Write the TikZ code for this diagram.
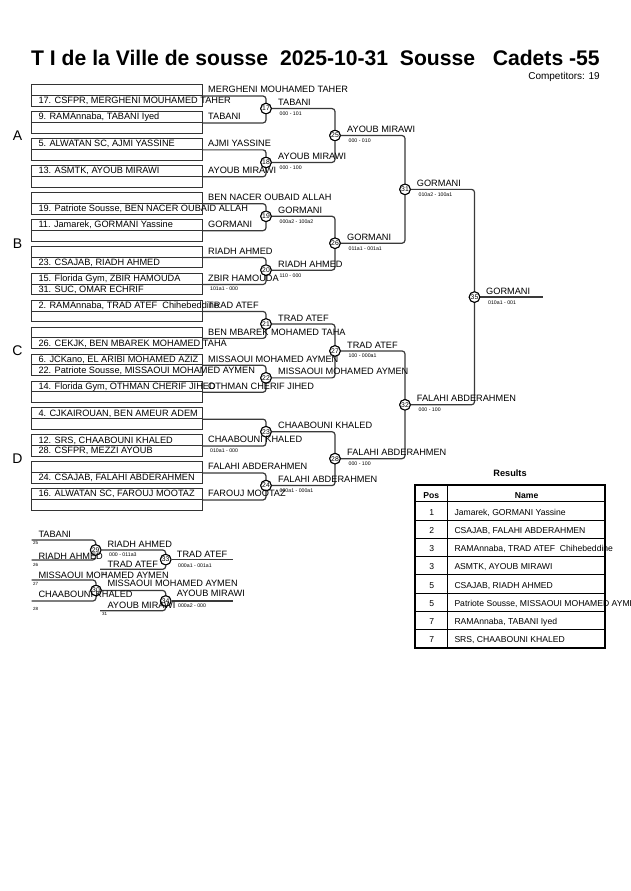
\documentclass[tikz,border=0pt]{standalone}
\usepackage{fontspec}
\setmainfont{Liberation Sans}
\definecolor{connc}{HTML}{3A3A3A}
\definecolor{boxc}{HTML}{333333}
\newcommand\mypair[4]{%
  \node[bx] (b#1u) at (31,#2) {};
  \node[bx] (b#1l) at (31,#2+10.8) {};
  \node[nm] (t#1u) at (38.3,#2+8.7) {#3};
  \node[nm] (t#1l) at (38.3,#2+19.5) {#4};
}
\begin{document}
\begin{tikzpicture}[x=1pt,y=-1pt,
  nm/.style={font=\fontsize{9.2}{10}\selectfont, inner sep=0, anchor=base west},
  sc/.style={font=\fontsize{5.2}{6}\selectfont, inner sep=0, anchor=base west},
  tn/.style={font=\fontsize{4.5}{5}\selectfont, inner sep=0, anchor=base west},
  bx/.style={draw=boxc, line width=0.9pt, minimum width=171pt, minimum height=10.8pt, inner sep=0, anchor=north west},
  mc/.style={circle, draw=black, line width=1pt, fill=white, minimum size=10.6pt, inner sep=0, font=\fontsize{6.8}{7}\selectfont},
  conn/.style={draw=connc, line width=1.2pt, rounded corners=3pt},
  sect/.style={font=\fontsize{14}{16}\selectfont, inner sep=0},
]
\useasboundingbox (0,0) rectangle (630,891);
\fill[white] (0,0) rectangle (630,891);

% title
\node[font=\bfseries\fontsize{21.15}{24}\selectfont, anchor=base west, inner sep=0] (title) at (31,66) {T I de la Ville de sousse\ \ 2025-10-31\ \ Sousse\ \ \ Cadets -55};
\node[font=\fontsize{10}{12}\selectfont, anchor=base east, inner sep=0] (comp) at (600,79.5) {Competitors: 19};

% entry boxes
\mypair{0}{84.30}{}{17. CSFPR, MERGHENI MOUHAMED TAHER}
\mypair{1}{111.23}{9. RAMAnnaba, TABANI Iyed}{}
\mypair{2}{138.16}{5. ALWATAN SC, AJMI YASSINE}{}
\mypair{3}{165.09}{13. ASMTK, AYOUB MIRAWI}{}
\mypair{4}{192.02}{}{19. Patriote Sousse, BEN NACER OUBAID ALLAH}
\mypair{5}{218.95}{11. Jamarek, GORMANI Yassine}{}
\mypair{6}{245.88}{}{23. CSAJAB, RIADH AHMED}
\mypair{7}{272.81}{15. Florida Gym, ZBIR HAMOUDA}{31. SUC, OMAR ECHRIF}
\mypair{8}{299.74}{2. RAMAnnaba, TRAD ATEF\ \ Chihebeddine}{}
\mypair{9}{326.67}{}{26. CEKJK, BEN MBAREK MOHAMED TAHA}
\mypair{10}{353.60}{6. JCKano, EL ARIBI MOHAMED AZIZ}{22. Patriote Sousse, MISSAOUI MOHAMED AYMEN}
\mypair{11}{380.53}{14. Florida Gym, OTHMAN CHERIF JIHED}{}
\mypair{12}{407.46}{4. CJKAIROUAN, BEN AMEUR ADEM}{}
\mypair{13}{434.39}{12. SRS, CHAABOUNI KHALED}{28. CSFPR, MEZZI AYOUB}
\mypair{14}{461.32}{}{24. CSAJAB, FALAHI ABDERAHMEN}
\mypair{15}{488.25}{16. ALWATAN SC, FAROUJ MOOTAZ}{}

% section letters
\node[sect] (sA) at (17.5,135.5) {A};
\node[sect] (sB) at (17.5,243.2) {B};
\node[sect] (sC) at (17.5,350.9) {C};
\node[sect] (sD) at (17.5,458.7) {D};

% match circles
\node[mc] (m17) at (266,108.57) {17};
\node[mc] (m18) at (266,162.43) {18};
\node[mc] (m19) at (266,216.29) {19};
\node[mc] (m20) at (266,270.15) {20};
\node[mc] (m21) at (266,324.01) {21};
\node[mc] (m22) at (266,377.87) {22};
\node[mc] (m23) at (266,431.73) {23};
\node[mc] (m24) at (266,485.59) {24};
\node[mc] (m25) at (335,135.50) {25};
\node[mc] (m26) at (335,243.22) {26};
\node[mc] (m27) at (335,350.94) {27};
\node[mc] (m28) at (335,458.66) {28};
\node[mc] (m31) at (405,189.36) {31};
\node[mc] (m32) at (405,404.80) {32};
\node[mc] (m35) at (474.5,297.08) {35};
\coordinate (fin) at (542.5,297.08);

% connectors round 1
\foreach \a/\m in {0/17,1/17,2/18,3/18,4/19,5/19,6/20,7/20,8/21,9/21,10/22,11/22,12/23,13/23,14/24,15/24}
  \draw[conn] (b\a u.south east) -| (m\m);
\foreach \a/\m in {17/25,18/25,19/26,20/26,21/27,22/27,23/28,24/28,25/31,26/31,27/32,28/32,31/35,32/35}
  \draw[conn] (m\a.east) -| (m\m);
\draw[conn] (m35.east) -- (fin);
\foreach \m in {17,...,28,31,32,35} \node[mc] at (m\m) {\m};

% round 1 labels
\node[nm] (l0) at (208,92.8) {MERGHENI MOUHAMED TAHER};
\node[nm] (l1) at (208,119.7) {TABANI};
\node[nm] (l2) at (208,146.7) {AJMI YASSINE};
\node[nm] (l3) at (208,173.6) {AYOUB MIRAWI};
\node[nm] (l4) at (208,200.5) {BEN NACER OUBAID ALLAH};
\node[nm] (l5) at (208,227.5) {GORMANI};
\node[nm] (l6) at (208,254.4) {RIADH AHMED};
\node[nm] (l7) at (208,281.3) {ZBIR HAMOUDA};
\node[nm] (l8) at (208,308.2) {TRAD ATEF};
\node[nm] (l9) at (208,335.2) {BEN MBAREK MOHAMED TAHA};
\node[nm] (l10) at (208,362.1) {MISSAOUI MOHAMED AYMEN};
\node[nm] (l11) at (208,389.0) {OTHMAN CHERIF JIHED};
\node[nm] (l13) at (208,442.9) {CHAABOUNI KHALED};
\node[nm] (l14) at (208,469.8) {FALAHI ABDERAHMEN};
\node[nm] (l15) at (208,496.8) {FAROUJ MOOTAZ};
\node[sc] (p7) at (210,290.8) {101a1 - 000};
\node[sc] (p13) at (210,452.9) {010a1 - 000};

% winners and scores
\node[nm] (w17) at (278,105.7) {TABANI};
\node[sc] (s17) at (279.5,115.5) {000 - 101};
\node[nm] (w18) at (278,159.5) {AYOUB MIRAWI};
\node[sc] (s18) at (279.5,169.4) {000 - 100};
\node[nm] (w19) at (278,213.4) {GORMANI};
\node[sc] (s19) at (279.5,223.3) {000a2 - 100a2};
\node[nm] (w20) at (278,267.2) {RIADH AHMED};
\node[sc] (s20) at (279.5,277.1) {110 - 000};
\node[nm] (w21) at (278,321.1) {TRAD ATEF};
\node[nm] (w22) at (278,374.9) {MISSAOUI MOHAMED AYMEN};
\node[nm] (w23) at (278,428.8) {CHAABOUNI KHALED};
\node[nm] (w24) at (278,482.7) {FALAHI ABDERAHMEN};
\node[sc] (s24) at (279.5,492.6) {000a1 - 000a1};
\node[nm] (w25) at (347,132.6) {AYOUB MIRAWI};
\node[sc] (s25) at (348.5,142.5) {000 - 010};
\node[nm] (w26) at (347,240.3) {GORMANI};
\node[sc] (s26) at (348.5,250.2) {011a1 - 001a1};
\node[nm] (w27) at (347,348.0) {TRAD ATEF};
\node[sc] (s27) at (348.5,357.9) {100 - 000a1};
\node[nm] (w28) at (347,455.8) {FALAHI ABDERAHMEN};
\node[sc] (s28) at (348.5,465.7) {000 - 100};
\node[nm] (w31) at (416.7,186.5) {GORMANI};
\node[sc] (s31) at (418.5,196.4) {010a2 - 100a1};
\node[nm] (w32) at (416.7,401.9) {FALAHI ABDERAHMEN};
\node[sc] (s32) at (418.5,411.8) {000 - 100};
\node[nm] (w35) at (486,294.2) {GORMANI};
\node[sc] (s35) at (488,304.1) {010a1 - 001};

% repechage
\coordinate (e25) at (31.7,540);
\coordinate (e26) at (31.7,560);
\coordinate (e32) at (100,569.3);
\coordinate (e27) at (31.7,580);
\coordinate (e28) at (31.7,601);
\coordinate (e31) at (100,610.7);
\coordinate (f33) at (233.3,559.6);
\coordinate (f34) at (233.3,601);
\node[mc] (m29) at (95.7,550) {29};
\node[mc] (m33) at (165.7,559.6) {33};
\node[mc] (m30) at (96,590.5) {30};
\node[mc] (m34) at (165.7,601) {34};
\draw[conn] (e25) -| (m29);
\draw[conn] (e26) -| (m29);
\draw[conn] (m29.east) -| (m33);
\draw[conn] (e32) -| (m33);
\draw[conn] (m33.east) -- (f33);
\draw[conn] (e27) -| (m30);
\draw[conn] (e28) -| (m30);
\draw[conn] (m30.east) -| (m34);
\draw[conn] (e31) -| (m34);
\draw[conn] (m34.east) -- (f34);
\foreach \m in {29,30,33,34} \node[mc] at (m\m) {\m};
\node[nm] (r25) at (38.3,537.3) {TABANI};
\node[tn] (n25) at (33,544.8) {25};
\node[nm] (r26) at (38.3,559.2) {RIADH AHMED};
\node[tn] (n26) at (33,566) {26};
\node[nm] (r29) at (107.3,547.3) {RIADH AHMED};
\node[sc] (q29) at (109,556.2) {000 - 011a3};
\node[nm] (r32) at (107.3,567.3) {TRAD ATEF};
\node[tn] (n32) at (102,575.5) {32};
\node[nm] (r33) at (176.7,557.3) {TRAD ATEF};
\node[sc] (q33) at (178,567.6) {000a1 - 001a1};
\node[nm] (r27) at (38.3,578.3) {MISSAOUI MOHAMED AYMEN};
\node[tn] (n27) at (33,585.2) {27};
\node[nm] (r28) at (38.3,597.6) {CHAABOUNI KHALED};
\node[tn] (n28) at (33,610.2) {28};
\node[nm] (r30) at (107.3,586.6) {MISSAOUI MOHAMED AYMEN};
\node[nm] (r31) at (107.3,608.3) {AYOUB MIRAWI};
\node[tn] (n31) at (102,615.9) {31};
\node[nm] (r34) at (176.7,596.6) {AYOUB MIRAWI};
\node[sc] (q34) at (178,607.6) {000a2 - 000};

% results
\node[font=\bfseries\fontsize{9.2}{10}\selectfont, anchor=base, inner sep=0] (rtitle) at (510,476.6) {Results};
\draw[line width=0.8pt] (415,501.7) -- (605,501.7);
\foreach \i in {1,...,7} \draw[line width=0.8pt] (415,501.7+18.25*\i) -- (605,501.7+18.25*\i);
\draw[line width=0.8pt] (447.3,485) -- (447.3,647.7);
\node[font=\bfseries\fontsize{8.6}{10}\selectfont, anchor=base, inner sep=0] (hpos) at (431.3,498.3) {Pos};
\node[font=\bfseries\fontsize{8.6}{10}\selectfont, anchor=base, inner sep=0] (hname) at (526.7,498.3) {Name};
\foreach \i/\p/\n in {0/1/{Jamarek, GORMANI Yassine},1/2/{CSAJAB, FALAHI ABDERAHMEN},2/3/{RAMAnnaba, TRAD ATEF\ \ Chihebeddine},3/3/{ASMTK, AYOUB MIRAWI},4/5/{CSAJAB, RIADH AHMED},5/5/{Patriote Sousse, MISSAOUI MOHAMED AYMEN},6/7/{RAMAnnaba, TABANI Iyed},7/7/{SRS, CHAABOUNI KHALED}} {
  \node[font=\fontsize{8.6}{10}\selectfont, anchor=base, inner sep=0] (pp\i) at (431.7,515.2+18.25*\i) {\p};
  \node[font=\fontsize{8.6}{10}\selectfont, anchor=base west, inner sep=0] (pn\i) at (454.3,515.2+18.25*\i) {\n};
}
\draw[line width=1.6pt] (415,485) rectangle (605,647.7);
\end{tikzpicture}
\end{document}
